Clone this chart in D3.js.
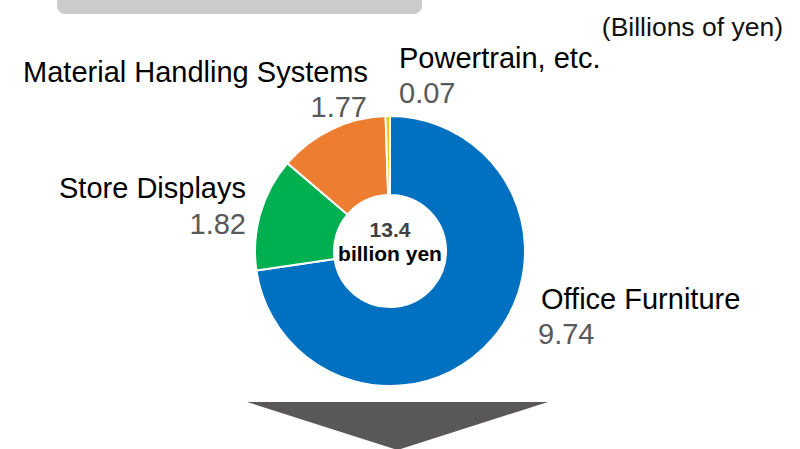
<!DOCTYPE html>
<html>
<head>
<meta charset="utf-8">
<script src="https://cdn.jsdelivr.net/npm/d3@7"></script>
<style>
  html, body { margin: 0; padding: 0; background: #fff; }
  svg { display: block; font-family: "Liberation Sans", Arial, sans-serif; }
</style>
</head>
<body>
<svg id="chart" width="800" height="449"></svg>
<script>
// Sales breakdown by segment (billions of yen)
const categories = ["Office Furniture", "Store Displays", "Material Handling Systems", "Powertrain, etc."];
const values = [9.74, 1.82, 1.77, 0.07];
const colors = ["#0070c0", "#00b050", "#ed7d31", "#ffc000"];
const totalText = ["13.4", "billion yen"];
const unitText = "(Billions of yen)";

// Where each segment's name and value sit around the ring
const labelLayout = {
  "Office Furniture":          { x: 541, y: 309, anchor: "start", vx: 538, vy: 344 },
  "Store Displays":            { x: 246, y: 198, anchor: "end",   vx: 246, vy: 234 },
  "Material Handling Systems": { x: 368, y: 82,  anchor: "end",   vx: 367, vy: 117 },
  "Powertrain, etc.":          { x: 399, y: 68,  anchor: "start", vx: 399, vy: 103 }
};

const svg = d3.select("#chart");
const cx = 390, cy = 251, outerR = 135, innerR = 56;

// Header bar
svg.append("rect")
  .attr("x", 57).attr("y", -10)
  .attr("width", 365).attr("height", 24)
  .attr("rx", 8).attr("ry", 8)
  .attr("fill", "#cbcccb");

svg.append("text")
  .attr("x", 783).attr("y", 36)
  .attr("text-anchor", "end")
  .attr("font-size", 26.5)
  .attr("fill", "#111")
  .text(unitText);

// Donut
const data = categories.map((c, i) => ({ category: c, value: values[i], color: colors[i] }));
const pie = d3.pie().value(d => d.value).sort(null).startAngle(0).endAngle(2 * Math.PI);
const arc = d3.arc().innerRadius(innerR).outerRadius(outerR);

const g = svg.append("g").attr("transform", `translate(${cx},${cy})`);
g.selectAll("path.slice")
  .data(pie(data))
  .join("path")
  .attr("class", "slice")
  .attr("d", arc)
  .attr("fill", d => d.data.color)
  .attr("stroke", "#fff")
  .attr("stroke-width", 2)
  .attr("stroke-linejoin", "round");

// Total in the hole
g.append("text")
  .attr("x", 0).attr("y", -14)
  .attr("text-anchor", "middle")
  .attr("font-size", 21).attr("font-weight", "bold")
  .attr("fill", "#404040")
  .text(totalText[0]);
g.append("text")
  .attr("x", 0).attr("y", 10)
  .attr("text-anchor", "middle")
  .attr("font-size", 21).attr("font-weight", "bold")
  .attr("fill", "#000")
  .text(totalText[1]);

// Segment labels
const fmt = d3.format(".2f");
data.forEach(d => {
  const L = labelLayout[d.category];
  svg.append("text")
    .attr("x", L.x).attr("y", L.y)
    .attr("text-anchor", L.anchor)
    .attr("font-size", 29)
    .attr("fill", "#000")
    .text(d.category);
  svg.append("text")
    .attr("x", L.vx).attr("y", L.vy)
    .attr("text-anchor", L.anchor)
    .attr("font-size", 29)
    .attr("fill", "#595959")
    .text(fmt(d.value));
});

// Downward arrow beneath the ring
const arrowPts = [[247, 402], [548, 402], [397.5, 450]];
svg.append("path")
  .attr("d", d3.line()(arrowPts) + "Z")
  .attr("fill", "#595757");
</script>
</body>
</html>
